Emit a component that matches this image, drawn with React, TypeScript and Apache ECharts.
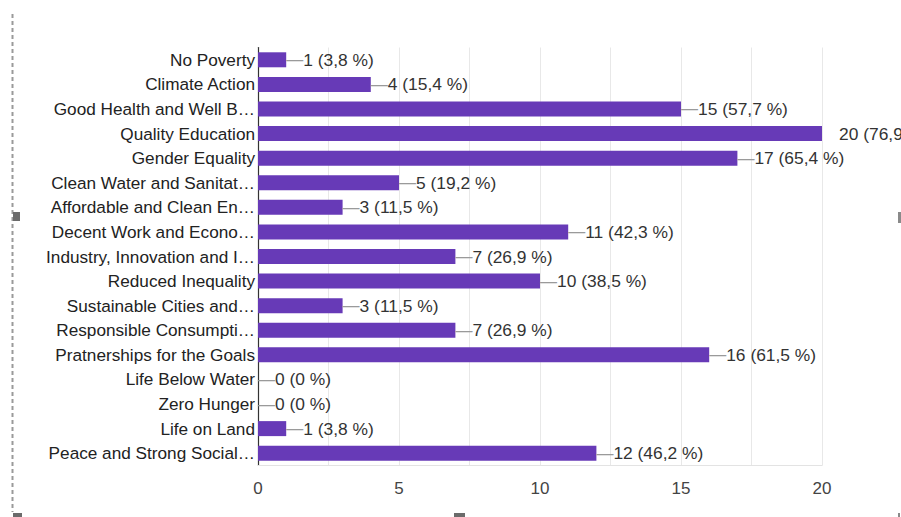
import React, { useEffect, useRef } from "react";
import * as echarts from "echarts";

const categories = [
  "No Poverty",
  "Climate Action",
  "Good Health and Well B…",
  "Quality Education",
  "Gender Equality",
  "Clean Water and Sanitat…",
  "Affordable and Clean En…",
  "Decent Work and Econo…",
  "Industry, Innovation and I…",
  "Reduced Inequality",
  "Sustainable Cities and…",
  "Responsible Consumpti…",
  "Pratnerships for the Goals",
  "Life Below Water",
  "Zero Hunger",
  "Life on Land",
  "Peace and Strong Social…",
];
const values = [1, 4, 15, 20, 17, 5, 3, 11, 7, 10, 3, 7, 16, 0, 0, 1, 12];
const percents = [
  "3,8", "15,4", "57,7", "76,9", "65,4", "19,2", "11,5", "42,3", "26,9",
  "38,5", "11,5", "26,9", "61,5", "0", "0", "3,8", "46,2",
];
const xMin = 0;
const xMax = 20;
const xStep = 2.5;
const xLabelStep = 5;

const FONT = "Liberation Sans, Arial, sans-serif";

export default function App() {
  const ref = useRef<HTMLDivElement>(null);
  useEffect(() => {
    if (!ref.current) return;
    const chart = echarts.init(ref.current, undefined, { renderer: "svg" });
    chart.setOption({
      animation: false,
      grid: { left: 258, right: 79, top: 47.5, bottom: 51.5, containLabel: false },
      xAxis: {
        type: "value",
        min: xMin,
        max: xMax,
        interval: xStep,
        axisLine: { show: true, lineStyle: { color: "#e3e3e3", width: 1 } },
        axisTick: { show: false },
        splitLine: { show: true, lineStyle: { color: "#e8e8e8", width: 1 } },
        axisLabel: {
          color: "#444",
          fontSize: 17,
          fontFamily: FONT,
          margin: 14,
          formatter: (v: number) => (v % xLabelStep === 0 ? String(v) : ""),
        },
      },
      yAxis: {
        type: "category",
        data: categories,
        inverse: true,
        axisLine: { show: true, onZero: false, lineStyle: { color: "#333", width: 1.2 } },
        axisTick: { show: false },
        splitLine: { show: false },
        axisLabel: {
          color: "#222",
          fontSize: 17.2,
          fontFamily: FONT,
          margin: 3,
          interval: 0,
        },
      },
      series: [
        {
          type: "bar",
          data: values,
          barWidth: 15,
          itemStyle: { color: "#673ab7" },
          label: {
            show: true,
            position: "right",
            distance: 0,
            fontFamily: FONT,
            fontSize: 17,
            formatter: (p: any) =>
              `{${p.value >= xMax ? "h" : "d"}|—}{t|${p.value} (${percents[p.dataIndex]} %)}`,
            rich: {
              d: { color: "#9a9a9a", fontSize: 17, fontFamily: FONT },
              h: { color: "rgba(0,0,0,0)", fontSize: 17, fontFamily: FONT },
              t: { color: "#333", fontSize: 17.4, fontFamily: FONT },
            },
          },
        },
      ],
      graphic: [
        {
          type: "line",
          shape: { x1: 12.5, y1: 14, x2: 12.5, y2: 512 },
          style: { stroke: "#9a9a9a", lineWidth: 2, lineDash: [4, 3] },
        },
        { type: "rect", shape: { x: 13, y: 212, width: 7, height: 9 }, style: { fill: "#6b6b6b" } },
        { type: "rect", shape: { x: 898, y: 212, width: 3, height: 11 }, style: { fill: "#8a8a8a" } },
        { type: "rect", shape: { x: 454, y: 513, width: 11, height: 4 }, style: { fill: "#6b6b6b" } },
        { type: "rect", shape: { x: 13, y: 513, width: 9, height: 4 }, style: { fill: "#6b6b6b" } },
        { type: "rect", shape: { x: 898, y: 513, width: 2, height: 4 }, style: { fill: "#8a8a8a" } },
      ],
    });
    return () => chart.dispose();
  }, []);
  return (
    <div
      ref={ref}
      style={{ position: "absolute", left: 0, top: 0, width: 901, height: 517, background: "#fff" }}
    />
  );
}
